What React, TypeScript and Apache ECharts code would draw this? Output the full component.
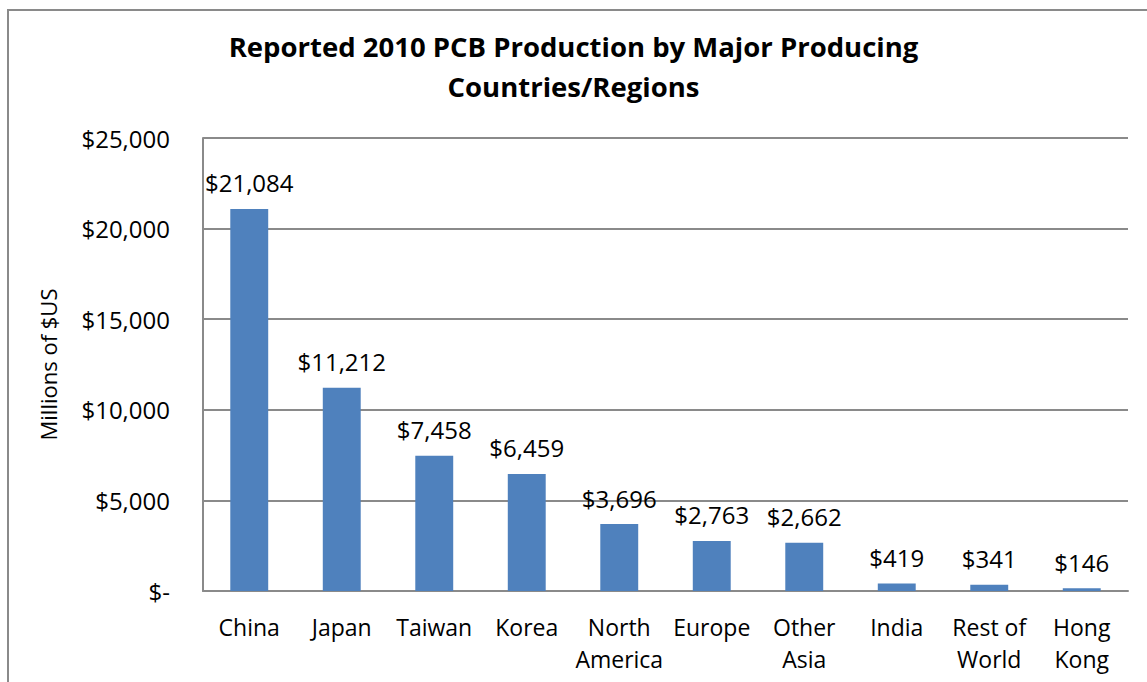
import React, { useEffect, useRef } from "react";
import * as echarts from "echarts";

const categories = ["China", "Japan", "Taiwan", "Korea", "North America", "Europe", "Other Asia", "India", "Rest of World", "Hong Kong"];
const values = [21084, 11212, 7458, 6459, 3696, 2763, 2662, 419, 341, 146];
const titleText = "Reported 2010 PCB Production by Major Producing\nCountries/Regions";
const yAxisName = "Millions of $US";

const FONT = "Open Sans";

function money(v: number): string {
  if (v === 0) return "$-";
  return "$" + v.toLocaleString("en-US");
}

export default function App() {
  const ref = useRef<HTMLDivElement>(null);
  useEffect(() => {
    document.body.style.margin = "0";
    const chart = echarts.init(ref.current!, null, { renderer: "svg" });
    chart.setOption({
      animation: false,
      backgroundColor: "#ffffff",
      title: {
        text: titleText,
        left: "center",
        top: 21,
        textStyle: { fontFamily: FONT, fontSize: 27.5, fontWeight: "bold", color: "#000", lineHeight: 40 },
      },
      graphic: [
        {
          type: "rect",
          shape: { x: 8, y: 10, width: 1150, height: 690 },
          style: { fill: "none", stroke: "#8a8a8a", lineWidth: 2 },
          silent: true,
        },
      ],
      grid: { left: 203, top: 138, right: 19, bottom: 91, containLabel: false },
      xAxis: {
        type: "category",
        data: categories,
        axisLine: { show: true, lineStyle: { color: "#8a8a8a", width: 2 } },
        axisTick: { show: false },
        axisLabel: {
          interval: 0,
          margin: 20,
          fontFamily: FONT,
          fontSize: 23,
          color: "#000",
          lineHeight: 32,
          formatter: (s: string) => {
            const i = s.lastIndexOf(" ");
            return i < 0 ? s : s.slice(0, i) + "\n" + s.slice(i + 1);
          },
        },
      },
      yAxis: {
        type: "value",
        min: 0,
        max: 25000,
        interval: 5000,
        name: yAxisName,
        nameLocation: "middle",
        nameGap: 144,
        nameRotate: 90,
        nameTextStyle: { fontFamily: FONT, fontSize: 22, color: "#000" },
        axisLine: { show: true, lineStyle: { color: "#8a8a8a", width: 2 } },
        axisTick: { show: false },
        splitLine: { show: true, lineStyle: { color: "#8a8a8a", width: 2 } },
        axisLabel: {
          margin: 33,
          fontFamily: FONT,
          fontSize: 24,
          color: "#000",
          formatter: (v: number) => money(v),
        },
      },
      series: [
        {
          type: "bar",
          data: values,
          barWidth: "41%",
          itemStyle: { color: "#4f81bd" },
          label: {
            show: true,
            position: "top",
            distance: 14,
            fontFamily: FONT,
            fontSize: 24,
            color: "#000",
            formatter: (p: any) => money(p.value),
          },
        },
      ],
    });
    return () => chart.dispose();
  }, []);
  return <div ref={ref} style={{ width: 1147, height: 682 }} />;
}
